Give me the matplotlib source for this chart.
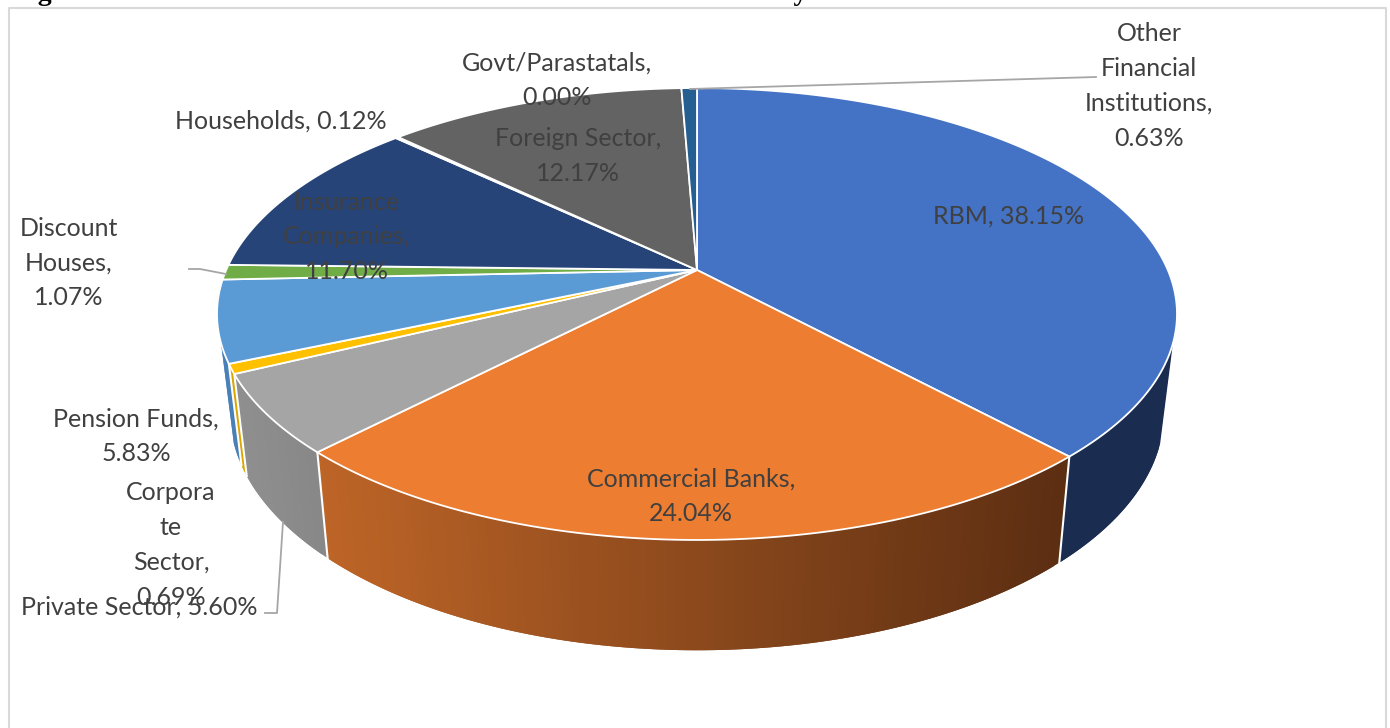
import numpy as np
from matplotlib import pyplot as plt
from matplotlib.collections import PolyCollection
from matplotlib.colors import to_rgb

plt.rcParams['font.family'] = ['Lato', 'DejaVu Sans']

holders = ['RBM', 'Commercial Banks', 'Private Sector', 'Corporate Sector',
           'Pension Funds', 'Discount Houses', 'Insurance Companies',
           'Households', 'Foreign Sector', 'Govt/Parastatals',
           'Other Financial Institutions']
shares = [38.15, 24.04, 5.60, 0.69, 5.83, 1.07, 11.70, 0.12, 12.17, 0.00, 0.63]
label_fmt = ['RBM, {:.2f}%', 'Commercial Banks,\n{:.2f}%', 'Private Sector, {:.2f}%',
             'Corpora\nte\nSector,\n{:.2f}%', 'Pension Funds,\n{:.2f}%',
             'Discount\nHouses,\n{:.2f}%', 'Insurance\nCompanies,\n{:.2f}%',
             'Households, {:.2f}%', 'Foreign Sector,\n{:.2f}%',
             'Govt/Parastatals,\n{:.2f}%', 'Other\nFinancial\nInstitutions,\n{:.2f}%']
label_x = [1009, 691, 139, 171, 136, 69, 347, 281, 578, 557, 1149]
label_y = [216, 496, 607, 545, 436, 263, 237, 121, 156, 80, 86]
top_colors = ['#4472C4', '#ED7D31', '#A5A5A5', '#FFC000', '#5B9BD5', '#70AD47',
              '#264478', '#9E480E', '#636363', '#997300', '#255E91']
# side wall colours: (left end, right end) of a horizontal shade
side_colors = [('#1A2D50', '#1A2D50'), ('#BE6527', '#5C2E12'), ('#8F8F8F', '#888888'),
               ('#DBA500', '#DBA500'), ('#4A80B8', '#4A80B8')]

# pixel geometry of the tilted disc
cx, cy = 697, 270
K = 0.1947
A = 217.4
B = 470.8
# the wall is only seen between these angles (clockwise from 12 o'clock)
wall_from = np.radians(108.4)
wall_to = np.radians(251.6)

def top_rim(theta):
    # perspective projection of the unit circle
    u = np.sin(theta)
    v = np.cos(theta)
    w = 1 + K*v
    return cx + B*u/w, cy - A*v/w

def bottom_rim(theta):
    x, y = top_rim(theta)
    return cx + 0.973*(x - cx), 413 + 1.05*(y - 314)

fig = plt.figure(figsize=(13.9, 7.28), dpi=100)
ax = fig.add_axes([0, 0, 1, 1])
ax.set_xlim(0, 1390)
ax.set_ylim(728, 0)
ax.axis('off')

# caption above the frame, cut by the top of the page
ax.text(13, 0.5, 'Figure 1: Malawi Government Domestic Debt Instruments Held by Holder',
        family='Liberation Serif', weight='bold', fontsize=20, color='black',
        ha='left', va='baseline')

# chart frame
ax.plot([8.5, 8.5, 1386, 1386], [728, 8, 8, 728], color='#D9D9D9', lw=1.5, zorder=1)

edges = np.radians(np.concatenate([[0], np.cumsum(shares)]) * 3.6)

# side walls, thin overlapping strips so the shade can change along x
for i in range(len(side_colors)):
    a0 = max(edges[i], wall_from)
    a1 = min(edges[i+1], wall_to)
    n = max(4, int((a1 - a0)*60))
    t = np.linspace(a0, a1, n)
    xt, yt = top_rim(t)
    xb, yb = bottom_rim(t)
    c0 = np.array(to_rgb(side_colors[i][0]))
    c1 = np.array(to_rgb(side_colors[i][1]))
    xmin, xmax = xt.min(), xt.max()
    quads = []
    cols = []
    for j in range(n-1):
        k = min(j+2, n-1)
        strip = [(xt[m], yt[m]) for m in range(j, k+1)] + [(xb[m], yb[m]) for m in range(k, j-1, -1)]
        quads.append(strip)
        cols.append(c0 + (c1 - c0)*(xt[j] - xmin)/(xmax - xmin))
    ax.add_collection(PolyCollection(quads, facecolors=cols, edgecolors='none', zorder=2))

# white seams between walls
for a in edges[1:5]:
    xt, yt = top_rim(a)
    xb, yb = bottom_rim(a)
    ax.plot([xt, xb], [yt, yb], color='white', lw=1.5, zorder=3)

# top faces
for i in range(len(shares)):
    a0, a1 = edges[i], edges[i+1]
    if a1 <= a0:
        continue
    t = np.linspace(a0, a1, max(3, int((a1 - a0)*150)))
    x, y = top_rim(t)
    ax.fill(np.r_[cx, x], np.r_[cy, y], facecolor=top_colors[i], edgecolor='white',
            lw=1.3, joinstyle='round', zorder=4)

# leader lines
ax.plot([690, 1096], [89, 77], color='#A6A6A6', lw=1.3, zorder=5)
ax.plot([189, 200, 226], [269, 269, 274], color='#A6A6A6', lw=1.3, zorder=5)
ax.plot([265, 277, 283], [613, 613, 522], color='#A6A6A6', lw=1.3, zorder=5)

for i in range(len(shares)):
    ax.text(label_x[i], label_y[i], label_fmt[i].format(shares[i]), fontsize=18,
            color='#404040', ha='center', va='center', ma='center', linespacing=1.62, zorder=6)

fig.savefig('out.png', dpi=100)
